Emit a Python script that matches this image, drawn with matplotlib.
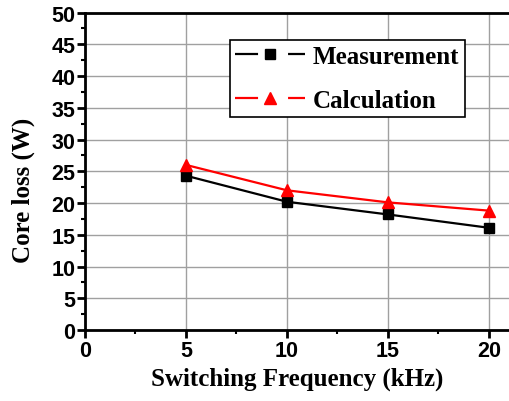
import numpy as np
import matplotlib
matplotlib.use('Agg')
import matplotlib.pyplot as plt
from matplotlib.ticker import MultipleLocator
from matplotlib.legend_handler import HandlerLine2D

freq = [5, 10, 15, 20]
measurement = [24.3, 20.2, 18.2, 16.1]
calculation = [26.0, 22.0, 20.1, 18.8]

tick_font = {'family': 'Liberation Sans', 'weight': 'bold', 'size': 15.5}
label_font = {'family': 'Liberation Serif', 'weight': 'bold', 'size': 18}
line_w = 1.6


def gap_handle(legline, orig):
    # origin style: line broken around the marker
    legline.update_from(orig)
    legline.set_linestyle((0, (16.6 / line_w, 21.6 / line_w)))


fig = plt.figure(figsize=(5.09, 4.02), dpi=100)
ax = fig.add_axes([0.167, 0.1766, 0.833, 0.7898])

ax.plot(freq, measurement, color='black', lw=line_w, marker='s', ms=7,
        label='Measurement', zorder=3)
ax.plot(freq, calculation, color='red', lw=line_w, marker='^', ms=9,
        label='Calculation', zorder=3)

ax.set_xlim(0, 21)
ax.set_ylim(0, 50)
ax.xaxis.set_major_locator(MultipleLocator(5))
ax.xaxis.set_minor_locator(MultipleLocator(2.5))
ax.yaxis.set_major_locator(MultipleLocator(5))
ax.yaxis.set_minor_locator(MultipleLocator(2.5))
ax.grid(True, which='major', color='#a0a0a0', lw=1.0, zorder=0)

for s in ['left', 'bottom', 'top']:
    ax.spines[s].set_linewidth(2)
ax.spines['right'].set_visible(False)
ax.tick_params(which='major', direction='out', length=6, width=2, pad=1)
ax.tick_params(which='minor', direction='out', length=3, width=1.5)

for lab in ax.get_xticklabels() + ax.get_yticklabels():
    lab.set_fontproperties(matplotlib.font_manager.FontProperties(**tick_font))

ax.set_xlabel('Switching Frequency (kHz)', fontdict=label_font, labelpad=4)
ax.set_ylabel('Core loss (W)', fontdict=label_font)
ax.yaxis.set_label_coords(-0.118, 0.444)

leg = ax.legend(loc='upper left', bbox_to_anchor=(0.342, 0.914),
                prop={'family': 'Liberation Serif', 'weight': 'bold', 'size': 18},
                frameon=True, fancybox=False, edgecolor='black', framealpha=1,
                handlelength=2.8, handletextpad=0.32, borderpad=0.2,
                labelspacing=0.84, borderaxespad=0,
                handler_map={plt.Line2D: HandlerLine2D(update_func=gap_handle)})
leg.get_frame().set_linewidth(1.2)

fig.savefig('out.png', dpi=100)
